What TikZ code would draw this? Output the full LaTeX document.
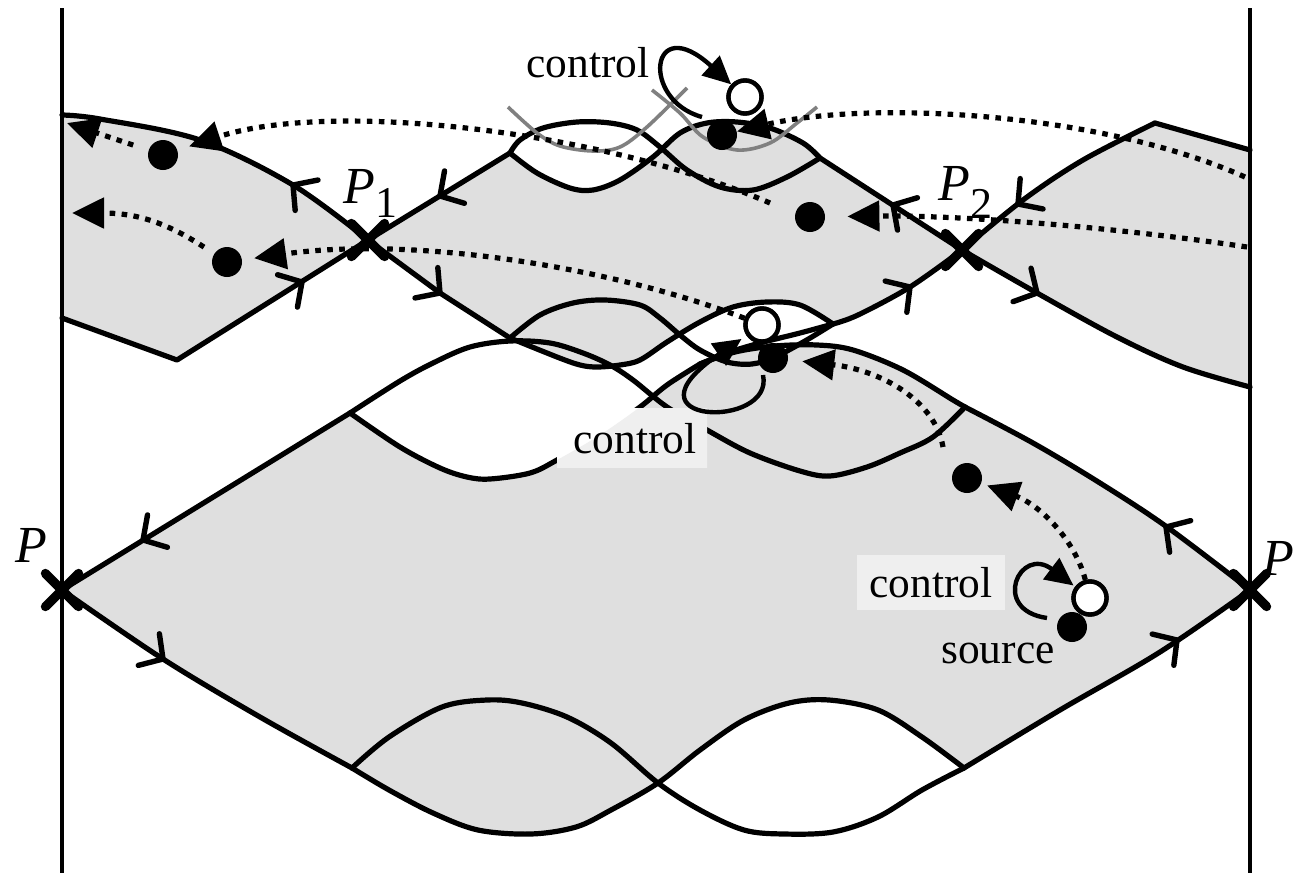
\documentclass[tikz,border=0pt]{standalone}
\usepackage{fontspec}
\setmainfont{Liberation Serif}
\usetikzlibrary{arrows.meta,shapes.misc}
\definecolor{lensgray}{gray}{0.875}
\definecolor{boxgray}{gray}{0.937}
\definecolor{curvegray}{gray}{0.5}
\def\LLregion{(62,590) -- (350,413) -- plot[smooth,tension=.55] coordinates {(350,413) (400,447) (440,468) (467,477) (490,479) (530,473) (557,460) (600,435) (640,407) (667,385) (700,364)} -- plot[smooth,tension=.55] coordinates {(700,364) (735,352) (775,346) (817,345) (853,350) (903,370) (953,400) (965,407)} -- plot[smooth,tension=.55] coordinates {(965,407) (1033,443) (1100,483) (1167,527) (1250,590)} -- plot[smooth,tension=.55] coordinates {(1250,590) (1160,652) (1060,710) (964,768)} -- plot[smooth,tension=.55] coordinates {(964,768) (922,737) (878,710) (829,700) (789,703) (744,720) (700,750) (658,783) (611,810) (576,827) (531,834) (478,830) (433,813) (389,790) (352,768)} -- plot[smooth,tension=.55] coordinates {(352,768) (260,717) (163,659) (62,590)} -- cycle}
\tikzset{chevron/.pic={\draw[line width=2.7pt,line cap=round,line join=miter] (-8.5pt,9.5pt) -- (0pt,0pt) -- (-8.5pt,-9.5pt);}}
\begin{document}
\begin{tikzpicture}[x=0.5pt,y=-0.5pt,
  man/.style={line width=2.6pt,line cap=round,line join=round},
  wall/.style={line width=2.2pt},
  dotarr/.style={line width=2.6pt,dash pattern=on 2.8pt off 3.2pt,-{Triangle[length=16pt,width=15pt]}},
  looparr/.style={line width=2.2pt,-{Triangle[length=14pt,width=13pt]}},
  xm/.style={draw,cross out,line width=4.6pt,line cap=round,minimum size=12pt,inner sep=0pt},
  fdot/.style={circle,fill=black,inner sep=0pt,minimum size=15pt},
  odot/.style={circle,draw=black,fill=white,line width=2.2pt,inner sep=0pt,minimum size=16.5pt},
  ctl/.style={font=\fontsize{21.7}{26}\selectfont,inner sep=0pt,anchor=base},
  plab/.style={font=\fontsize{26}{30}\selectfont\itshape,inner sep=0pt,anchor=base west},
  gcurve/.style={draw=curvegray,line width=1.8pt},
]
\useasboundingbox (0,0) rectangle (1296,873);
\clip (0,0) rectangle (1296,873);

% ---------- gray regions ----------
\fill[lensgray] plot[smooth,tension=.55] coordinates {(62,115) (100,119) (200,140) (293,185) (368,240)} -- (177,360) -- (62,318) -- cycle;
\fill[lensgray] (1250,150) -- (1155,123) -- plot[smooth,tension=.55] coordinates {(1155,123) (1083,160) (1023,200) (962,250)} -- plot[smooth,tension=.55] coordinates {(962,250) (1037,293) (1117,337) (1183,367) (1250,387)} -- cycle;
\fill[lensgray] (368,240) -- (510,153) -- plot[smooth,tension=.55] coordinates {(510,153) (537,173) (570,188) (593,190) (620,180) (653,157) (680,133) (707,123) (737,122) (770,128) (803,143) (820,158)} -- (962,250) -- plot[smooth,tension=.55] coordinates {(962,250) (910,287) (858,315) (833,324)} -- plot[smooth,tension=.55] coordinates {(833,324) (800,305) (767,302) (733,307) (700,322) (667,342) (640,360) (620,365) (597,367) (580,365) (557,357) (510,338)} -- (440,293) -- cycle;
\fill[lensgray] \LLregion;

% ---------- walls ----------
\draw[wall] (62,8) -- (62,873);
\draw[wall] (1250,8) -- (1250,873);

% ---------- manifolds ----------
\draw[man] plot[smooth,tension=.55] coordinates {(62,115) (100,119) (200,140) (293,185) (368,240)};
\draw[man] (368,240) -- (440,293) -- (510,338);
\draw[man] (62,318) -- (177,360) -- (368,240) -- (510,153);
\draw[man] plot[smooth,tension=.55] coordinates {(510,153) (520,140) (543,128) (577,122) (610,123) (637,130) (660,147) (687,170) (720,187) (753,190) (787,177) (820,158)};
\draw[man] plot[smooth,tension=.55] coordinates {(510,153) (537,173) (570,188) (593,190) (620,180) (653,157) (680,133) (707,123) (737,122) (770,128) (803,143) (820,158)};
\draw[man] (820,158) -- (962,250);
\draw[man] plot[smooth,tension=.55] coordinates {(962,250) (1037,293) (1117,337) (1183,367) (1250,387)};
\draw[man] (1250,150) -- (1155,123);
\draw[man] plot[smooth,tension=.55] coordinates {(1155,123) (1083,160) (1023,200) (962,250)};
\draw[man] plot[smooth,tension=.55] coordinates {(962,250) (910,287) (858,315) (833,324)};
\draw[man] plot[smooth,tension=.55] coordinates {(833,324) (800,333) (760,343) (730,352) (700,364)};
\draw[man] plot[smooth,tension=.55] coordinates {(510,338) (540,315) (573,303) (605,300) (640,305) (660,318) (680,335) (700,350) (727,362) (752,364) (775,357) (805,341) (833,324)};
\draw[man] plot[smooth,tension=.55] coordinates {(510,338) (557,357) (580,365) (597,367) (620,365) (640,360) (667,342) (700,322) (733,307) (767,302) (800,305) (833,324)};
\draw[man] plot[smooth,tension=.55] coordinates {(350,413) (400,381) (433,363) (470,347) (510,341) (550,343) (583,353) (610,365) (633,380) (667,407) (707,430) (750,453) (800,471) (830,476) (867,467) (900,453) (933,437) (965,407)};
\draw[man] plot[smooth,tension=.55] coordinates {(350,413) (400,447) (440,468) (467,477) (490,479) (530,473) (557,460) (600,435) (640,407) (667,385) (700,364)};
\draw[man] plot[smooth,tension=.55] coordinates {(700,364) (735,352) (775,346) (817,345) (853,350) (903,370) (953,400) (965,407)};
\draw[man] (62,590) -- (350,413);
\draw[man] plot[smooth,tension=.55] coordinates {(965,407) (1033,443) (1100,483) (1167,527) (1250,590)};
\draw[man] plot[smooth,tension=.55] coordinates {(62,590) (163,659) (260,717) (352,768)};
\draw[man] plot[smooth,tension=.55] coordinates {(964,768) (1060,710) (1160,652) (1250,590)};
\draw[man] plot[smooth,tension=.55] coordinates {(352,768) (389,790) (433,813) (478,830) (531,834) (576,827) (611,810) (658,783) (700,750) (744,720) (789,703) (829,700) (878,710) (922,737) (964,768)};
\draw[man] plot[smooth,tension=.55] coordinates {(964,768) (922,790) (878,817) (833,832) (784,834) (744,830) (700,810) (658,783) (611,743) (567,717) (522,703) (487,700) (442,707) (389,737) (352,768)};

% ---------- gray curves ----------
\draw[gcurve] plot[smooth,tension=.55] coordinates {(508,107) (537,133) (560,146) (593,151) (620,147) (647,127) (687,88)};
\draw[gcurve] plot[smooth,tension=.55] coordinates {(652,90) (680,113) (703,137) (737,150) (770,143) (797,123) (817,107)};

% ---------- label boxes ----------
\fill[white] (557,408) rectangle (707,467);
\begin{scope}
  \clip (557,408) rectangle (707,467);
  \fill[boxgray] \LLregion;
\end{scope}
\fill[boxgray] (857,555) rectangle (1005,610);

% ---------- chevrons on the manifolds ----------
\pic[rotate=-148.4] at (143,540) {chevron};
\pic[rotate=-33.7] at (163,659) {chevron};
\pic[rotate=146.3] at (1166,527) {chevron};
\pic[rotate=34.7] at (1177,640) {chevron};
\pic[rotate=143.1] at (293,185) {chevron};
\pic[rotate=31.6] at (302,282) {chevron};
\pic[rotate=-148.4] at (440,196) {chevron};
\pic[rotate=-36.9] at (440,293) {chevron};
\pic[rotate=148.4] at (893,205) {chevron};
\pic[rotate=34.7] at (910,287) {chevron};
\pic[rotate=-143.1] at (1018,204) {chevron};
\pic[rotate=-28.3] at (1037,293) {chevron};

% ---------- points ----------
\node[fdot] (tA) at (722,135) {};
\node[fdot] (tL1) at (163,155) {};
\node[fdot] (tL2) at (227,262) {};
\node[fdot] (tR) at (810,217) {};
\node[fdot] (tM) at (773,358) {};
\node[fdot] (tD) at (967,478) {};
\node[fdot] (tS) at (1072,627) {};
\node[odot] (oT) at (745,97) {};
\node[odot] (oM) at (762,325) {};
\node[odot] (oB) at (1090,598) {};

% ---------- dotted transport arrows ----------
\coordinate (d1s) at (1245,177);
\draw[dotarr] (d1s) .. controls (1100,112) and (870,100) .. (tA);
\coordinate (d2s) at (770,203);
\draw[dotarr,shorten >=6pt] (d2s) .. controls (600,130) and (330,100) .. (tL1);
\coordinate (d3e) at (67,123);
\draw[dotarr,shorten <=8pt] (tL1) -- (d3e);
\coordinate (d4e) at (72,213);
\draw[dotarr,shorten <=6pt] (tL2) .. controls (170,225) and (140,213) .. (d4e);
\draw[dotarr,shorten >=6pt] (oM) .. controls (620,270) and (420,235) .. (tL2);
\coordinate (d6s) at (1247,247);
\draw[dotarr,shorten >=11pt] (d6s) .. controls (1100,225) and (950,215) .. (tR);
\coordinate (d7s) at (943,447);
\draw[dotarr,shorten >=7pt] (d7s) .. controls (935,400) and (880,370) .. (tM);
\draw[dotarr,shorten >=3pt] (oB) .. controls (1075,540) and (1040,505) .. (tD);

% ---------- control loops ----------
\coordinate (lTs) at (702,117);
\draw[looparr] (lTs) .. controls (640,100) and (650,10) .. (oT);
\coordinate (lMs) at (763,375);
\draw[looparr,shorten >=3pt] (lMs) .. controls (775,430) and (615,425) .. (oM);
\coordinate (lBs) at (1047,618);
\draw[looparr,shorten >=1pt] (lBs) .. controls (990,610) and (1020,545) .. (oB);
\node[odot] at (oT) {};
\node[odot] at (oM) {};
\node[odot] at (oB) {};

% ---------- fixed points ----------
\node[xm] (nP) at (62,590) {};
\node[xm] (nPr) at (1250,590) {};
\node[xm] (nP1) at (368,240) {};
\node[xm] (nP2) at (962,250) {};

% ---------- labels ----------
\node[ctl] (cT) at (588,77) {control};
\node[ctl] (cM) at (635,453) {control};
\node[ctl] (cB) at (931,597) {control};
\node[ctl] (src) at (998,663) {source};
\node[plab] (lP) at (15,562) {P};
\node[plab] (lPr) at (1262,575) {P};
\node[plab] (lP1) at (343,203) {P\raisebox{-7pt}{\upshape\fontsize{22}{22}\selectfont 1}};
\node[plab] (lP2) at (938,200) {P\raisebox{-9pt}{\upshape\fontsize{22}{22}\selectfont 2}};
\end{tikzpicture}
\end{document}
